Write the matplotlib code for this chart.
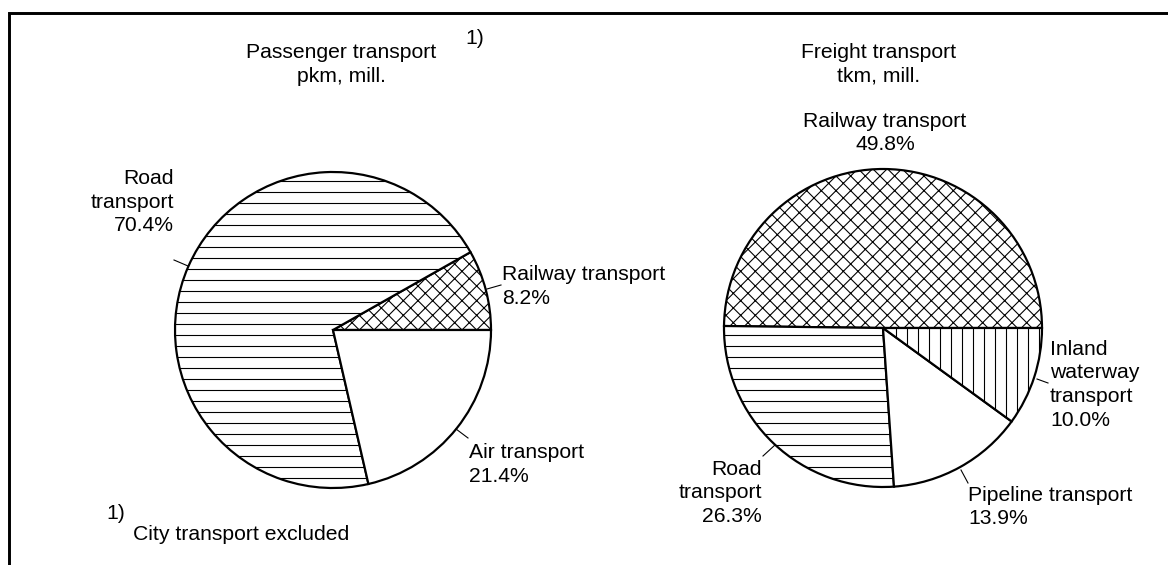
import matplotlib.pyplot as plt

plt.rcParams['font.family'] = ['Liberation Sans', 'DejaVu Sans']
plt.rcParams['hatch.color'] = 'black'
plt.rcParams['hatch.linewidth'] = 0.6

# Passenger transport, pkm mill. (shares %)
pass_labels = ["Railway transport", "Road transport", "Air transport"]
pass_values = [8.2, 70.4, 21.4]
pass_hatch = ["xxx", "--", ""]

# Freight transport, tkm mill. (shares %)
freight_labels = ["Railway transport", "Road transport", "Pipeline transport",
                  "Inland waterway transport"]
freight_values = [49.8, 26.3, 13.9, 10.0]
freight_hatch = ["xxx", "--", "", "||"]

DPI = 132
W, H = 1168, 565
FS = 11.5
PITCH = 23.5

fig = plt.figure(figsize=(W / DPI, H / DPI), dpi=DPI)
ax = fig.add_axes([0, 0, 1, 1])

wp = dict(edgecolor="black", linewidth=1.2)
ax.pie(pass_values, center=(333, 330), radius=158, startangle=0,
       counterclock=False, colors=["white"] * 3, hatch=pass_hatch,
       wedgeprops=wp, frame=True)
ax.pie(freight_values, center=(883, 328), radius=159, startangle=0,
       counterclock=False, colors=["white"] * 4, hatch=freight_hatch,
       wedgeprops=wp, frame=True)

ax.set_xlim(0, W)
ax.set_ylim(H, 0)
ax.axis("off")


def label(x, y, lines, ha="left"):
    # y is the baseline of the first line
    for i, s in enumerate(lines):
        ax.text(x, y + i * PITCH, s, ha=ha, va="baseline", fontsize=FS)


def leader(x0, y0, x1, y1):
    ax.plot([x0, x1], [y0, y1], color="black", lw=0.6)


# titles
label(341, 58, ["Passenger transport", "pkm, mill."], ha="center")
ax.text(465, 44, "1)", ha="left", va="baseline", fontsize=FS)
label(879, 58, ["Freight transport", "tkm, mill."], ha="center")

# passenger labels
label(174, 184, ["Road", "transport", f"{pass_values[1]}%"], ha="right")
leader(174, 260, 188, 266)
label(502, 280, ["Railway transport", f"{pass_values[0]}%"])
leader(487, 289, 501, 285)
label(469, 458, ["Air transport", f"{pass_values[2]}%"])
leader(456, 429, 468, 438)

# freight labels
label(885, 127, ["Railway transport", f"{freight_values[0]}%"], ha="center")
label(762, 475, ["Road", "transport", f"{freight_values[1]}%"], ha="right")
leader(775, 445, 763, 456)
label(968, 501, ["Pipeline transport", f"{freight_values[2]}%"])
leader(961, 470, 968, 483)
label(1050, 355, ["Inland", "waterway", "transport", f"{freight_values[3]:.1f}%"])
leader(1037, 379, 1048, 383)

# footnote
ax.text(106, 519, "1)", ha="left", va="baseline", fontsize=FS)
ax.text(133, 540, "City transport excluded", ha="left", va="baseline", fontsize=FS)

# frame (top and left edges)
ax.plot([9, 9, W + 5], [H + 5, 13, 13], color="black", lw=1.6,
        solid_joinstyle="miter", clip_on=False)

fig.savefig("out.png", dpi=DPI)
